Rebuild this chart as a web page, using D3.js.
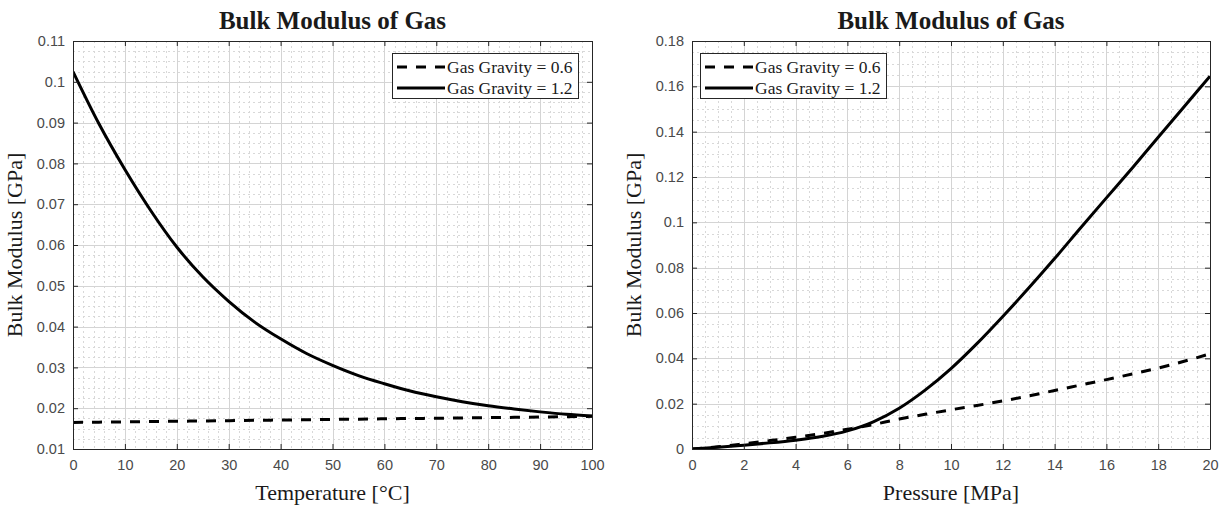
<!DOCTYPE html>
<html>
<head>
<meta charset="utf-8">
<script src="https://cdn.jsdelivr.net/npm/d3@7"></script>
<style>
  body { margin: 0; background: #fff; }
  svg { display: block; }
  .tick-label { font-family: "Liberation Sans", Arial, sans-serif; font-size: 14.5px; fill: #4a4a4a; }
  .serif { font-family: "Liberation Serif", "Times New Roman", serif; fill: #1a1a1a; }
</style>
</head>
<body>
<svg id="chart" width="1229" height="506"></svg>
<script>
'use strict';

// ---- data ----
var tempC = [0, 5, 10, 15, 20, 25, 30, 35, 40, 45, 50, 55, 60, 65, 70, 75, 80, 85, 90, 95, 100];
var bulkTempGg06 = [0.0165, 0.01658, 0.01665, 0.01673, 0.0168, 0.01688, 0.01695, 0.01703, 0.0171, 0.01718, 0.01725,
	0.01732, 0.0174, 0.01747, 0.01754, 0.01762, 0.01769, 0.01776, 0.01784, 0.01792, 0.018];
var bulkTempGg12 = [0.1025, 0.0897, 0.0785, 0.0684, 0.0595, 0.0522, 0.0462, 0.0411, 0.037, 0.0334, 0.0305,
	0.028, 0.026, 0.0242, 0.0228, 0.0216, 0.0206, 0.0198, 0.0191, 0.0185, 0.0181];

var pressMPa = [0, 1, 2, 3, 4, 5, 6, 7, 8, 9, 10, 11, 12, 13, 14, 15, 16, 17, 18, 19, 20];
var bulkPressGg06 = [0, 0.001, 0.0023, 0.0037, 0.0052, 0.0068, 0.0087, 0.0108, 0.0132, 0.0153, 0.0173,
	0.0192, 0.0212, 0.0234, 0.0258, 0.0282, 0.0306, 0.0331, 0.0357, 0.0387, 0.042];
var bulkPressGg12 = [0, 0.0008, 0.0017, 0.0027, 0.0039, 0.0055, 0.008, 0.012, 0.018, 0.026, 0.0355,
	0.0465, 0.0585, 0.071, 0.084, 0.0975, 0.1108, 0.124, 0.1375, 0.151, 0.1645];

var tempTicks = [0, 10, 20, 30, 40, 50, 60, 70, 80, 90, 100];
var tempBulkTicks = [0.01, 0.02, 0.03, 0.04, 0.05, 0.06, 0.07, 0.08, 0.09, 0.1, 0.11];
var pressTicks = [0, 2, 4, 6, 8, 10, 12, 14, 16, 18, 20];
var pressBulkTicks = [0, 0.02, 0.04, 0.06, 0.08, 0.1, 0.12, 0.14, 0.16, 0.18];

var legendLabels = ['Gas Gravity = 0.6', 'Gas Gravity = 1.2'];
var chartTitle = 'Bulk Modulus of Gas';
var yTitle = 'Bulk Modulus [GPa]';

var svg = d3.select('#chart');

function fmt(v){
	return String(+v.toFixed(4));
}

function drawPanel(opt){
	var x = d3.scaleLinear().domain(opt.xDomain).range([opt.left, opt.right]);
	var y = d3.scaleLinear().domain(opt.yDomain).range([opt.bottom, opt.top]);
	var g = svg.append('g');

	// minor grid (dotted)
	var xMinor = d3.range(opt.xDomain[0], opt.xDomain[1] + 1e-9, opt.xMinorStep);
	var yMinor = d3.range(opt.yDomain[0], opt.yDomain[1] + 1e-9, opt.yMinorStep);
	g.selectAll('line.xminor').data(xMinor).enter().append('line')
		.attr('x1', function(d){ return Math.round(x(d)) + 0.5; })
		.attr('x2', function(d){ return Math.round(x(d)) + 0.5; })
		.attr('y1', opt.top).attr('y2', opt.bottom)
		.attr('stroke', '#d8d8d8').attr('stroke-dasharray', '2,3');
	g.selectAll('line.yminor').data(yMinor).enter().append('line')
		.attr('y1', function(d){ return Math.round(y(d)) + 0.5; })
		.attr('y2', function(d){ return Math.round(y(d)) + 0.5; })
		.attr('x1', opt.left).attr('x2', opt.right)
		.attr('stroke', '#d8d8d8').attr('stroke-dasharray', '2,3');

	// major grid
	g.selectAll('line.xgrid').data(opt.xTicks).enter().append('line')
		.attr('x1', function(d){ return Math.round(x(d)) + 0.5; })
		.attr('x2', function(d){ return Math.round(x(d)) + 0.5; })
		.attr('y1', opt.top).attr('y2', opt.bottom)
		.attr('stroke', '#d4d4d4');
	g.selectAll('line.ygrid').data(opt.yTicks).enter().append('line')
		.attr('y1', function(d){ return Math.round(y(d)) + 0.5; })
		.attr('y2', function(d){ return Math.round(y(d)) + 0.5; })
		.attr('x1', opt.left).attr('x2', opt.right)
		.attr('stroke', '#d4d4d4');

	// lines
	var clipId = 'clip-' + opt.id;
	svg.append('clipPath').attr('id', clipId).append('rect')
		.attr('x', opt.left).attr('y', opt.top)
		.attr('width', opt.right - opt.left).attr('height', opt.bottom - opt.top);

	opt.series.forEach(function(s){
		var line = d3.line()
			.x(function(d, i){ return x(opt.xs[i]); })
			.y(function(d){ return y(d); })
			.curve(d3.curveMonotoneX);
		g.append('path')
			.datum(s.values)
			.attr('clip-path', 'url(#' + clipId + ')')
			.attr('fill', 'none')
			.attr('stroke', '#000')
			.attr('stroke-width', 3)
			.attr('stroke-dasharray', s.dash)
			.attr('d', line);
	});

	// axes on all four sides, ticks pointing inward
	var axisColor = '#262626';
	var bottomAxis = g.append('g').attr('transform', 'translate(0,' + opt.bottom + ')')
		.call(d3.axisBottom(x).tickValues(opt.xTicks).tickSizeInner(-5).tickSizeOuter(0).tickPadding(11).tickFormat(fmt));
	var topAxis = g.append('g').attr('transform', 'translate(0,' + opt.top + ')')
		.call(d3.axisTop(x).tickValues(opt.xTicks).tickSizeInner(-5).tickSizeOuter(0).tickFormat(''));
	var leftAxis = g.append('g').attr('transform', 'translate(' + opt.left + ',0)')
		.call(d3.axisLeft(y).tickValues(opt.yTicks).tickSizeInner(-5).tickSizeOuter(0).tickPadding(8).tickFormat(fmt));
	var rightAxis = g.append('g').attr('transform', 'translate(' + opt.right + ',0)')
		.call(d3.axisRight(y).tickValues(opt.yTicks).tickSizeInner(-5).tickSizeOuter(0).tickFormat(''));

	[bottomAxis, topAxis, leftAxis, rightAxis].forEach(function(a){
		a.select('.domain').attr('stroke', axisColor);
		a.selectAll('.tick line').attr('stroke', axisColor);
		a.selectAll('.tick text').attr('class', 'tick-label').attr('fill', null);
	});

	// title and axis labels
	var cx = (opt.left + opt.right) / 2;
	g.append('text').attr('class', 'serif')
		.attr('x', cx).attr('y', 29)
		.attr('text-anchor', 'middle')
		.style('font-size', '25px').style('font-weight', 'bold')
		.text(chartTitle);
	g.append('text').attr('class', 'serif')
		.attr('x', cx).attr('y', 500)
		.attr('text-anchor', 'middle')
		.style('font-size', '22px')
		.text(opt.xTitle);
	g.append('text').attr('class', 'serif')
		.attr('transform', 'translate(' + (opt.left - 51) + ',' + ((opt.top + opt.bottom) / 2) + ') rotate(-90)')
		.attr('text-anchor', 'middle')
		.style('font-size', '22px')
		.text(yTitle);

	// legend
	var lg = g.append('g').attr('transform', 'translate(' + opt.legendX + ',' + 53 + ')');
	lg.append('rect')
		.attr('x', 0.5).attr('y', 0.5)
		.attr('width', 186).attr('height', 45)
		.attr('fill', '#fff').attr('stroke', axisColor);
	opt.series.forEach(function(s, i){
		var yy = 14 + i * 21;
		lg.append('line')
			.attr('x1', 5).attr('x2', 53)
			.attr('y1', yy).attr('y2', yy)
			.attr('stroke', '#000').attr('stroke-width', 3)
			.attr('stroke-dasharray', s.dash);
		lg.append('text').attr('class', 'serif')
			.attr('x', 55).attr('y', yy + 6)
			.style('font-size', '17.5px')
			.text(legendLabels[i]);
	});
}

drawPanel({
	id: 'temp',
	left: 73, right: 592, top: 41, bottom: 449,
	xDomain: [0, 100], yDomain: [0.01, 0.11],
	xTicks: tempTicks, yTicks: tempBulkTicks,
	xMinorStep: 2, yMinorStep: 0.0025,
	xs: tempC,
	series: [
		{values: bulkTempGg06, dash: '10,9'},
		{values: bulkTempGg12, dash: null}
	],
	xTitle: 'Temperature [\u00B0C]',
	legendX: 392
});

drawPanel({
	id: 'press',
	left: 692, right: 1210, top: 41, bottom: 449,
	xDomain: [0, 20], yDomain: [0, 0.18],
	xTicks: pressTicks, yTicks: pressBulkTicks,
	xMinorStep: 0.5, yMinorStep: 0.005,
	xs: pressMPa,
	series: [
		{values: bulkPressGg06, dash: '10,9'},
		{values: bulkPressGg12, dash: null}
	],
	xTitle: 'Pressure [MPa]',
	legendX: 700
});
</script>
</body>
</html>
